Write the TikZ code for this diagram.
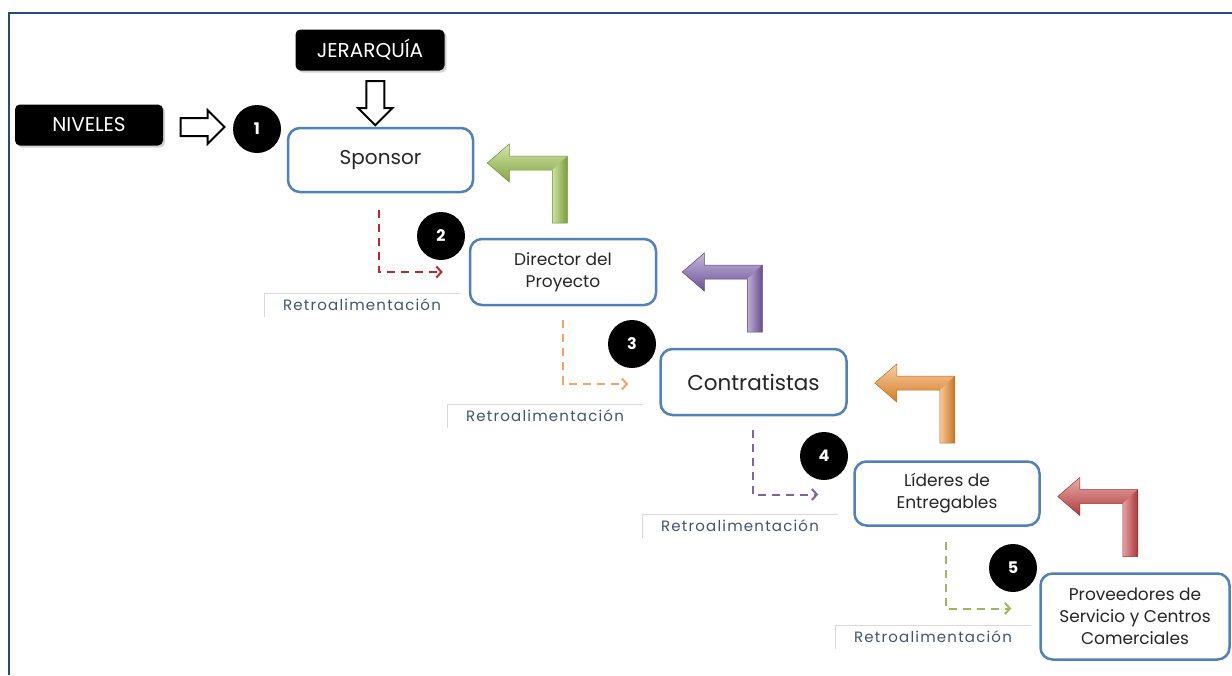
\documentclass[tikz,border=0pt]{standalone}
\usepackage{fontspec}
\setmainfont{Poppins}
\usepackage{xcolor}
\usetikzlibrary{arrows, arrows.meta, shapes.arrows, shadows, calc}

\definecolor{framecol}{HTML}{1F4E79}
\definecolor{boxblue}{HTML}{4F81BD}
\definecolor{retrotext}{HTML}{44546A}
\definecolor{retroline}{HTML}{D9D9D9}
\definecolor{upgreen}{HTML}{9BC34A}
\definecolor{uppurple}{HTML}{8060B0}
\definecolor{uporange}{HTML}{F7922E}
\definecolor{upred}{HTML}{D04545}
\definecolor{fbred}{HTML}{C0272D}
\definecolor{fborange}{HTML}{F5A462}
\definecolor{fbpurple}{HTML}{8064A2}
\definecolor{fbgreen}{HTML}{9BBB59}

\tikzset{
  stage/.style={draw=boxblue, line width=2.5pt, rounded corners=12pt, fill=white, align=center, text=black!85, inner sep=2pt},
  labelbox/.style={fill=black, rounded corners=5pt, text=white, minimum width=148pt, minimum height=41pt, font=\fontsize{20}{22}\selectfont, drop shadow={opacity=0.35, shadow xshift=2pt, shadow yshift=-2pt}},
  badge/.style={circle, fill=black, text=white, minimum size=48pt, inner sep=0pt, font=\bfseries\fontsize{16}{16}\selectfont},
  hollow/.style={single arrow, draw=black, line width=2pt, fill=white, minimum height=44pt, inner sep=8pt, single arrow head extend=8pt, single arrow tip angle=90},
  feedback/.style={dash pattern=on 8pt off 6pt, line width=2pt, -{Straight Barb[length=5pt,width=11pt]}},
  retro/.style={text=retrotext, minimum width=196pt, minimum height=23pt, inner sep=0pt, font=\fontsize{15}{17}\selectfont\addfontfeature{LetterSpace=8}},
  pics/upturn/.style={code={
    \shade[top color=#1!45!white, middle color=#1, bottom color=#1!85!black] (0,0) -- (22,-19) -- (22,-7) -- (80,-7) -- (80,7) -- (22,7) -- (22,19) -- cycle;
    \shade[left color=#1!50!white, right color=#1!80!black] (65,7) -- (80,-7) -- (80,60) -- (65,60) -- cycle;
    \draw[#1!75!black, line width=0.5pt] (0,0) -- (22,-19) -- (22,-7) -- (80,-7) -- (80,60) -- (65,60) -- (65,7) -- (22,7) -- (22,19) -- cycle;
  }}
}

\begin{document}
\begin{tikzpicture}[x=1pt, y=-1pt]

\useasboundingbox (0,0) rectangle (1232,675);
\draw[framecol, line width=2pt] (9,675) -- (9,13) -- (1232,13);

\node[labelbox] (niveles) at (89,125) {NIVELES};
\node[labelbox, minimum width=149pt] (jerarquia) at (370,50) {JERARQUÍA};

\node[stage, minimum width=185pt, minimum height=64pt, font=\fontsize{20}{24}\selectfont] (sponsor) at (380.5,160) {Sponsor};
\node[stage, minimum width=186pt, minimum height=66pt, font=\fontsize{17}{22}\selectfont] (director) at (563,272) {Director del\\Proyecto};
\node[stage, minimum width=186pt, minimum height=66pt, font=\fontsize{21.5}{24}\selectfont] (contratistas) at (753.5,382) {Contratistas};
\node[stage, minimum width=185pt, minimum height=64pt, font=\fontsize{17}{22}\selectfont] (lideres) at (947,493.5) {Líderes de\\Entregables};
\node[stage, minimum width=189pt, minimum height=86pt, font=\fontsize{17}{22}\selectfont] (proveedores) at (1135,616.5) {Proveedores de\\Servicio y Centros\\Comerciales};

\node[badge] (n1) at (257,129) {1};
\node[badge] (n2) at (441,236) {2};
\node[badge] (n3) at (632,344) {3};
\node[badge] (n4) at (824,456) {4};
\node[badge] (n5) at (1013,568) {5};

\node[hollow] (toone) at ($(niveles.east)!.5!(n1.west)$) {};
\node[hollow, shape border rotate=270] (tosponsor) at ($(jerarquia.south)!.5!(sponsor.north)$) {};

\draw[feedback, fbred] ([xshift=-2pt, yshift=-17pt]sponsor.south) |- ([xshift=-26pt]director.west);
\draw[feedback, fborange] ([yshift=-14pt]director.south) |- ([xshift=-31pt, yshift=-2pt]contratistas.west);
\draw[feedback, fbpurple] ([xshift=-1pt, yshift=-14pt]contratistas.south) |- ([xshift=-35pt, yshift=-1pt]lideres.west);
\draw[feedback, fbgreen] ([xshift=-1pt, yshift=-15pt]lideres.south) |- ([xshift=-28pt, yshift=8pt]proveedores.west);

\node[retro] (r1) at (362,305) {Retroalimentación};
\node[retro] (r2) at (545,416) {Retroalimentación};
\node[retro] (r3) at (740,526) {Retroalimentación};
\node[retro] (r4) at (933,637) {Retroalimentación};
\draw[retroline] (r1.south west) |- (r1.north east);
\draw[retroline] (r2.south west) |- (r2.north east);
\draw[retroline] (r3.south west) |- (r3.north east);
\draw[retroline] (r4.south west) |- (r4.north east);

\pic at ([xshift=13pt, yshift=-3pt]sponsor.east) {upturn=upgreen};
\pic at ([xshift=25pt]director.east) {upturn=uppurple};
\pic at ([xshift=27pt, yshift=-1pt]contratistas.east) {upturn=uporange};
\pic at ([xshift=17pt, yshift=-3pt]lideres.east) {upturn=upred};

\end{tikzpicture}
\end{document}
